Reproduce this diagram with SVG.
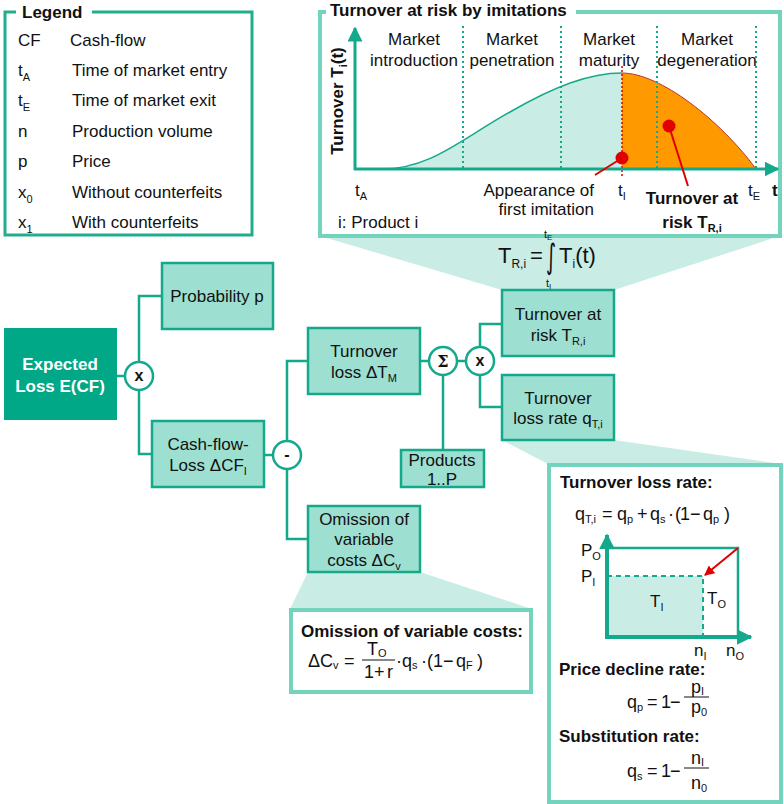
<svg xmlns="http://www.w3.org/2000/svg" width="784" height="804" viewBox="0 0 784 804">
  <style>
    text { font-family: "Liberation Sans", Arial, sans-serif; font-size: 17px; fill: #111; }
    .b { font-weight: bold; }
    .c { text-anchor: middle; }
    .e { text-anchor: end; }
    .s { font-size: 11px; }
    .m { font-size: 18px; }
    .big { font-size: 22px; }
    .bs { font-size: 12px; }
    .lim { font-size: 11px; }
    .lims { font-size: 8px; }
    .int { font-family: "DejaVu Sans", sans-serif; font-size: 26px; }
    .w { fill: #fff; }
    .node rect { fill: #9ddfd0; stroke: #14a98b; stroke-width: 2.5; }
    .op circle { fill: #fff; stroke: #14a98b; stroke-width: 2.5; }
    .op text { font-weight: bold; text-anchor: middle; font-size: 16px; }
    .sig { font-family: "DejaVu Serif", serif; }
    .conn path { fill: none; stroke: #14a98b; stroke-width: 2.5; }
    .panel { fill: #fff; stroke: #74d3bd; stroke-width: 4; }
    .callout { fill: #c9ede5; }
    .phase { stroke: #14a98b; stroke-width: 2; stroke-dasharray: 2 3; }
    .axis { stroke: #14a98b; fill: none; }
    .bar { stroke: #111; stroke-width: 1; }
  </style>
  <defs>
    <marker id="ah" viewBox="0 0 10 10" refX="9" refY="5" markerWidth="5" markerHeight="5" orient="auto" markerUnits="strokeWidth">
      <path d="M0,0 L10,5 L0,10 z" fill="#14a98b"/>
    </marker>
    <marker id="ahs" viewBox="0 0 10 10" refX="9" refY="5" markerWidth="4" markerHeight="4" orient="auto" markerUnits="strokeWidth">
      <path d="M0,0 L10,5 L0,10 z" fill="#14a98b"/>
    </marker>
    <marker id="ahr" viewBox="0 0 10 10" refX="9" refY="5" markerWidth="5" markerHeight="5" orient="auto" markerUnits="strokeWidth">
      <path d="M0,0 L10,5 L0,10 z" fill="#e00000"/>
    </marker>
  </defs>

  <!-- callout wedges -->
  <polygon class="callout" points="320,236 780,236 614,290 502,290"/>
  <polygon class="callout" points="502,440 614,440 781,464 548,464"/>
  <polygon class="callout" points="308,572 420,572 532,609 290,609"/>

  <!-- legend -->
  <g id="legend">
    <rect x="5" y="12" width="247" height="223" fill="#fff" stroke="#22ad8e" stroke-width="3"/>
    <rect x="16" y="3" width="76" height="18" fill="#fff"/>
    <text class="b" x="22" y="18">Legend</text>
    <text x="18" y="46">CF</text><text x="70" y="46">Cash-flow</text>
    <text x="18" y="76">t<tspan class="s" dy="5">A</tspan></text><text x="72" y="76">Time of market entry</text>
    <text x="18" y="106">t<tspan class="s" dy="5">E</tspan></text><text x="72" y="106">Time of market exit</text>
    <text x="18" y="137">n</text><text x="72" y="137">Production volume</text>
    <text x="18" y="167">p</text><text x="72" y="167">Price</text>
    <text x="18" y="198">x<tspan class="s" dy="5">0</tspan></text><text x="72" y="198">Without counterfeits</text>
    <text x="18" y="228">x<tspan class="s" dy="5">1</tspan></text><text x="72" y="228">With counterfeits</text>
  </g>

  <!-- turnover curve panel -->
  <g id="turnover-chart">
    <rect class="panel" x="320" y="12" width="460" height="224"/>
    <rect x="326" y="2" width="250" height="18" fill="#fff"/>
    <text class="b" x="330" y="16">Turnover at risk by imitations</text>

    <!-- area under the life-cycle curve -->
    <path d="M382,169 C430,169 460,140 510,112 C555,86 590,73 622,73 L622,169 Z" fill="#c9ede5"/>
    <path d="M622,73 C660,73 720,120 756,169 L622,169 Z" fill="#ff9900"/>
    <path d="M382,169 C430,169 460,140 510,112 C555,86 590,73 622,73" fill="none" stroke="#14a98b" stroke-width="1.5"/>
    <path d="M622,73 C660,73 720,120 756,169" fill="none" stroke="#b8342a" stroke-width="1"/>

    <!-- phase boundaries -->
    <line class="phase" x1="463" y1="26" x2="463" y2="169"/>
    <line class="phase" x1="561" y1="26" x2="561" y2="169"/>
    <line class="phase" x1="657" y1="26" x2="657" y2="169"/>
    <line class="phase" x1="756" y1="26" x2="756" y2="169"/>
    <line x1="622" y1="66" x2="622" y2="176" stroke="#e00000" stroke-width="1.5" stroke-dasharray="2 2"/>

    <!-- axes -->
    <line class="axis" x1="355" y1="170" x2="355" y2="28" stroke-width="3" marker-end="url(#ah)"/>
    <line class="axis" x1="354" y1="169" x2="778" y2="169" stroke-width="3" marker-end="url(#ah)"/>

    <!-- markers -->
    <line x1="622" y1="158" x2="595" y2="175" stroke="#e00000" stroke-width="2"/>
    <line x1="669" y1="126" x2="688" y2="186" stroke="#e00000" stroke-width="2"/>
    <circle cx="622" cy="158" r="6.5" fill="#e00000"/>
    <circle cx="669" cy="126" r="6.5" fill="#e00000"/>

    <text class="c" x="414" y="45">Market</text><text class="c" x="414" y="66">introduction</text>
    <text class="c" x="512" y="45">Market</text><text class="c" x="512" y="66">penetration</text>
    <text class="c" x="609" y="45">Market</text><text class="c" x="609" y="66">maturity</text>
    <text class="c" x="707" y="45">Market</text><text class="c" x="707" y="66">degeneration</text>

    <text class="b c" transform="translate(343,101) rotate(-90)">Turnover T<tspan class="s" dy="4">i</tspan><tspan dy="-4">(t)</tspan></text>

    <text x="355" y="196">t<tspan class="s" dy="4">A</tspan></text>
    <text class="e" x="594" y="196">Appearance of</text>
    <text class="e" x="594" y="215">first imitation</text>
    <text x="618" y="196">t<tspan class="s" dy="4">I</tspan></text>
    <text x="748" y="196">t<tspan class="s" dy="4">E</tspan></text>
    <text class="b" x="772" y="196">t</text>
    <text class="b c" x="692" y="204">Turnover at</text>
    <text class="b c" x="692" y="228">risk T<tspan class="s" dy="4">R,i</tspan></text>
    <text x="338" y="228">i: Product i</text>
  </g>

  <!-- integral formula -->
  <g id="risk-formula">
    <text class="big" x="498" y="263">T<tspan class="bs" dy="5">R,i</tspan></text>
    <text class="big" x="530" y="263">=</text>
    <text class="int" transform="translate(546,268) scale(0.75,1.3)">∫</text>
    <text class="lim" x="544" y="238">t<tspan class="lims" dy="2">E</tspan></text>
    <text class="lim" x="546" y="287">t<tspan class="lims" dy="2">I</tspan></text>
    <text class="big" x="559" y="263">T<tspan class="bs" dy="5">i</tspan><tspan dy="-5">(t)</tspan></text>
  </g>

  <!-- connectors -->
  <g id="connectors" class="conn">
    <path d="M117,376 H125"/>
    <path d="M139,362 V296 H162"/>
    <path d="M139,390 V454 H152"/>
    <path d="M264,455 H273"/>
    <path d="M287,441 V361 H308"/>
    <path d="M287,469 V539 H308"/>
    <path d="M420,361 H429"/>
    <path d="M457,361 H466"/>
    <path d="M443,375 V450"/>
    <path d="M480,347 V324 H502"/>
    <path d="M480,375 V407 H502"/>
  </g>

  <!-- tree nodes -->
  <g id="expected-loss">
    <rect x="4" y="328" width="113" height="92" fill="#00a887"/>
    <text class="b c w" x="60" y="370">Expected</text>
    <text class="b c w" x="60" y="392">Loss E(CF)</text>
  </g>
  <g id="op-mult1" class="op">
    <circle cx="139" cy="376" r="14"/>
    <text x="139" y="381">x</text>
  </g>
  <g id="probability" class="node">
    <rect x="162" y="263" width="111" height="66"/>
    <text class="c" x="217" y="302">Probability p</text>
  </g>
  <g id="cashflow-loss" class="node">
    <rect x="152" y="421" width="112" height="66"/>
    <text class="c" x="208" y="450">Cash-flow-</text>
    <text class="c" x="208" y="471">Loss ΔCF<tspan class="s" dy="4">I</tspan></text>
  </g>
  <g id="op-minus" class="op">
    <circle cx="287" cy="455" r="14"/>
    <text x="287" y="460">-</text>
  </g>
  <g id="turnover-loss" class="node">
    <rect x="308" y="328" width="112" height="66"/>
    <text class="c" x="364" y="357">Turnover</text>
    <text class="c" x="364" y="378">loss ΔT<tspan class="s" dy="4">M</tspan></text>
  </g>
  <g id="op-sum" class="op">
    <circle cx="443" cy="361" r="14"/>
    <text class="sig" x="443" y="367">Σ</text>
  </g>
  <g id="op-mult2" class="op">
    <circle cx="480" cy="361" r="14"/>
    <text x="480" y="366">x</text>
  </g>
  <g id="turnover-at-risk" class="node">
    <rect x="502" y="290" width="112" height="66"/>
    <text class="c" x="558" y="320">Turnover at</text>
    <text class="c" x="558" y="341">risk T<tspan class="s" dy="4">R,i</tspan></text>
  </g>
  <g id="turnover-loss-rate" class="node">
    <rect x="502" y="375" width="112" height="65"/>
    <text class="c" x="558" y="404">Turnover</text>
    <text class="c" x="558" y="424">loss rate q<tspan class="s" dy="4">T,i</tspan></text>
  </g>
  <g id="products" class="node">
    <rect x="401" y="450" width="83" height="37"/>
    <text class="c" x="442" y="466">Products</text>
    <text class="c" x="442" y="485">1..P</text>
  </g>
  <g id="variable-costs" class="node">
    <rect x="308" y="506" width="112" height="66"/>
    <text class="c" x="364" y="525">Omission of</text>
    <text class="c" x="364" y="545">variable</text>
    <text class="c" x="364" y="566">costs ΔC<tspan class="s" dy="4">v</tspan></text>
  </g>

  <!-- variable cost formula panel -->
  <g id="variable-costs-formula">
    <rect class="panel" x="291" y="610" width="240" height="82"/>
    <text class="b" x="301" y="637">Omission of variable costs:</text>
    <text class="m" x="308" y="667">ΔC<tspan class="s" dy="2">v</tspan></text>
    <text class="m" x="344" y="667">=</text>
    <text class="m" x="367" y="655">T<tspan class="s" dy="2">O</tspan></text>
    <line class="bar" x1="362" y1="660" x2="395" y2="660"/>
    <text class="m" x="364" y="678">1</text>
    <text class="m" x="374" y="678">+</text>
    <text class="m" x="387" y="678">r</text>
    <text class="m" x="396" y="667">·</text>
    <text class="m" x="402" y="667">q<tspan class="s" dy="2">s</tspan></text>
    <text class="m" x="421" y="667">·</text>
    <text class="m" x="427" y="667">(</text>
    <text class="m" x="433" y="667">1</text>
    <text class="m" x="443" y="667">−</text>
    <text class="m" x="456" y="667">q<tspan class="s" dy="2">F</tspan></text>
    <text class="m" x="477" y="667">)</text>
  </g>

  <!-- turnover loss rate panel -->
  <g id="loss-rate-formula">
    <rect class="panel" x="549" y="465" width="232" height="337"/>
    <text class="b" x="560" y="488">Turnover loss rate:</text>
    <text class="m" x="575" y="520">q<tspan class="s" dy="3">T,i</tspan></text>
    <text class="m" x="602" y="520">=</text>
    <text class="m" x="617" y="520">q<tspan class="s" dy="3">p</tspan></text>
    <text class="m" x="637" y="520">+</text>
    <text class="m" x="650" y="520">q<tspan class="s" dy="3">s</tspan></text>
    <text class="m" x="668" y="520">·</text>
    <text class="m" x="675" y="520">(</text>
    <text class="m" x="680" y="520">1</text>
    <text class="m" x="690" y="520">−</text>
    <text class="m" x="703" y="520">q<tspan class="s" dy="3">p</tspan></text>
    <text class="m" x="724" y="520">)</text>

    <!-- price / volume diagram -->
    <rect x="607" y="576" width="96" height="61" fill="#c9ede5"/>
    <path d="M607,548 H738 V637" fill="none" stroke="#14a98b" stroke-width="2.5"/>
    <path d="M607,576 H703 V637" fill="none" stroke="#14a98b" stroke-width="2" stroke-dasharray="5 4"/>
    <line class="axis" x1="607" y1="639" x2="607" y2="535" stroke-width="4" marker-end="url(#ahs)"/>
    <line class="axis" x1="605" y1="637" x2="751" y2="637" stroke-width="4" marker-end="url(#ahs)"/>
    <line x1="738" y1="548" x2="705" y2="575" stroke="#e00000" stroke-width="2" marker-end="url(#ahr)"/>
    <text x="581" y="556">P<tspan class="s" dy="4">O</tspan></text>
    <text x="581" y="582">P<tspan class="s" dy="4">I</tspan></text>
    <text x="650" y="607">T<tspan class="s" dy="4">I</tspan></text>
    <text x="707" y="604">T<tspan class="s" dy="4">O</tspan></text>
    <text x="694" y="656">n<tspan class="s" dy="4">I</tspan></text>
    <text x="726" y="656">n<tspan class="s" dy="4">O</tspan></text>

    <text class="b" x="559" y="675">Price decline rate:</text>
    <text class="m" x="627" y="708">q<tspan class="s" dy="3">p</tspan></text>
    <text class="m" x="647" y="708">=</text>
    <text class="m" x="661" y="708">1</text>
    <text class="m" x="670" y="708">−</text>
    <text class="m" x="691" y="693">p<tspan class="s" dy="2">I</tspan></text>
    <line class="bar" x1="684" y1="697" x2="709" y2="697"/>
    <text class="m" x="691" y="713">p<tspan class="s" dy="3">0</tspan></text>

    <text class="b" x="559" y="742">Substitution rate:</text>
    <text class="m" x="627" y="777">q<tspan class="s" dy="3">s</tspan></text>
    <text class="m" x="647" y="777">=</text>
    <text class="m" x="661" y="777">1</text>
    <text class="m" x="670" y="777">−</text>
    <text class="m" x="691" y="764">n<tspan class="s" dy="2">I</tspan></text>
    <line class="bar" x1="684" y1="768" x2="709" y2="768"/>
    <text class="m" x="691" y="789">n<tspan class="s" dy="3">0</tspan></text>
  </g>
</svg>
